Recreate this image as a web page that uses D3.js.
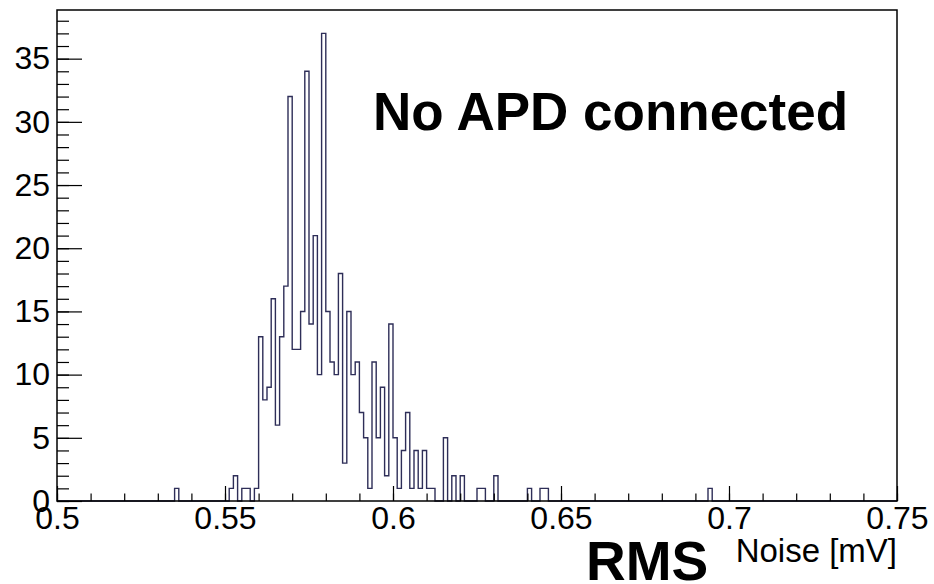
<!DOCTYPE html>
<html>
<head>
<meta charset="utf-8">
<script src="https://cdn.jsdelivr.net/npm/d3@7"></script>
<style>
  body { margin: 0; background: #fff; }
  svg { display: block; font-family: "Liberation Sans", Arial, Helvetica, sans-serif; }
</style>
</head>
<body>
<div id="chart"></div>
<script>
// Histogram binning (ROOT style: 200 bins over 0.5 - 0.75)
const xMin = 0.5;
const xMax = 0.75;
const nBins = 200;

// Non-empty bins (bin index) and their contents
const filledBins = [28, 41, 42, 44, 45, 47, 48, 49, 50, 51, 52, 53, 54, 55, 56, 57, 58, 59, 60,
  61, 62, 63, 64, 65, 66, 67, 68, 69, 70, 71, 72, 73, 74, 75, 76, 77, 78, 79, 80,
  81, 82, 83, 84, 85, 86, 87, 88, 89, 92, 94, 96, 100, 101, 104, 112, 115, 116, 155];
const binCounts = [1, 1, 2, 1, 1, 1, 13, 8, 9, 16, 6, 13, 17, 32, 12, 12, 15, 34, 14,
  21, 10, 37, 15, 11, 10, 18, 3, 15, 10, 11, 7, 5, 1, 11, 5, 9, 2, 14, 5,
  1, 4, 7, 1, 4, 1, 4, 1, 1, 5, 2, 2, 1, 1, 2, 1, 1, 1, 1];

// Axis labels
const xTickValues = [0.5, 0.55, 0.6, 0.65, 0.7, 0.75];
const yTickValues = [0, 5, 10, 15, 20, 25, 30, 35];
const yMax = 38.85;

const width = 934, height = 584;
const frame = { left: 57, right: 897, top: 10, bottom: 501 };

const svg = d3.select("#chart").append("svg")
  .attr("width", width)
  .attr("height", height);

svg.append("rect").attr("width", width).attr("height", height).attr("fill", "#fff");

const x = d3.scaleLinear().domain([xMin, xMax]).range([frame.left, frame.right]);
const y = d3.scaleLinear().domain([0, yMax]).range([frame.bottom, frame.top]);

// full bin table
const binWidth = (xMax - xMin) / nBins;
const contents = new Array(nBins).fill(0);
filledBins.forEach((b, i) => { contents[b] = binCounts[i]; });
const steps = contents.map((c, i) => [xMin + i * binWidth, c]);
steps.push([xMax, contents[nBins - 1]]);

// histogram outline
const line = d3.line()
  .x(d => x(d[0]))
  .y(d => y(d[1]))
  .curve(d3.curveStepAfter);

svg.append("path")
  .datum(steps)
  .attr("d", line)
  .attr("fill", "none")
  .attr("stroke", "#2e2e58")
  .attr("stroke-width", 1.4);

// y axis: major + minor ticks pointing inside the frame
const yMinor = d3.range(0, 39, 1);
svg.append("g")
  .attr("transform", `translate(${frame.left},0)`)
  .call(d3.axisLeft(y).tickValues(yMinor).tickSize(-12).tickFormat(""))
  .call(g => g.select(".domain").remove());

svg.append("g")
  .attr("class", "y-axis")
  .attr("transform", `translate(${frame.left},0)`)
  .call(d3.axisLeft(y).tickValues(yTickValues).tickSize(-25).tickPadding(7).tickFormat(d3.format("d")))
  .call(g => g.select(".domain").remove())
  .call(g => g.selectAll("text").attr("font-size", 32).attr("fill", "#000").attr("font-family", null));

// x axis: major + minor ticks pointing up
const xMinor = d3.range(0, 26).map(i => xMin + i * 0.01);
svg.append("g")
  .attr("transform", `translate(0,${frame.bottom})`)
  .call(d3.axisBottom(x).tickValues(xMinor).tickSize(-7.5).tickFormat(""))
  .call(g => g.select(".domain").remove());

svg.append("g")
  .attr("class", "x-axis")
  .attr("transform", `translate(0,${frame.bottom})`)
  .call(d3.axisBottom(x).tickValues(xTickValues).tickSize(-15).tickPadding(5).tickFormat(d => String(+d.toFixed(2))))
  .call(g => g.select(".domain").remove())
  .call(g => g.selectAll("text").attr("font-size", 32).attr("fill", "#000").attr("font-family", null));

svg.selectAll(".tick line").attr("stroke", "#000").attr("stroke-width", 1.2);

// frame
svg.append("rect")
  .attr("x", frame.left)
  .attr("y", frame.top)
  .attr("width", frame.right - frame.left)
  .attr("height", frame.bottom - frame.top)
  .attr("fill", "none")
  .attr("stroke", "#000")
  .attr("stroke-width", 1.5);

// annotation
svg.append("text")
  .attr("x", 373)
  .attr("y", 130)
  .attr("font-size", 53)
  .attr("font-weight", "bold")
  .attr("fill", "#000")
  .text("No APD connected");

// axis title
svg.append("text")
  .attr("x", 586)
  .attr("y", 580)
  .attr("font-size", 55)
  .attr("font-weight", "bold")
  .attr("fill", "#000")
  .text("RMS");

svg.append("text")
  .attr("x", frame.right)
  .attr("y", 562)
  .attr("text-anchor", "end")
  .attr("font-size", 33)
  .attr("fill", "#000")
  .text("Noise [mV]");
</script>
</body>
</html>
